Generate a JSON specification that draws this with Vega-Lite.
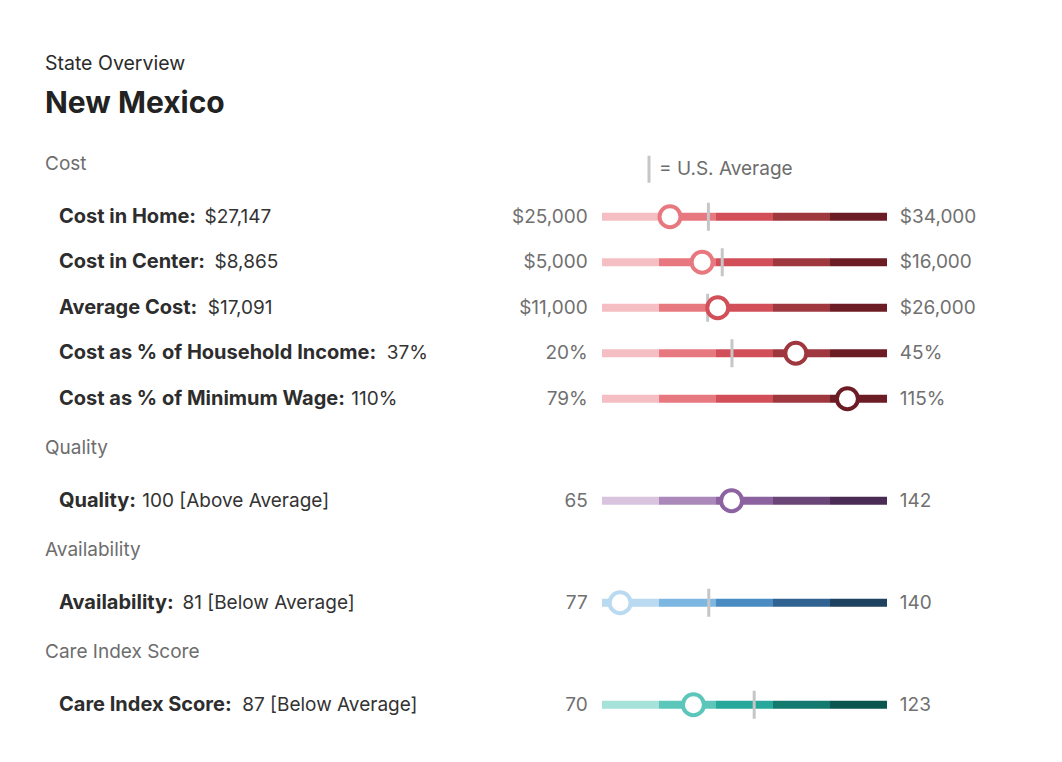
{
  "$schema": "https://vega.github.io/schema/vega-lite/v6.json",
  "background": "white",
  "padding": {"left": 0, "top": 54, "right": 0, "bottom": 0},
  "autosize": {"type": "pad"},
  "config": {"view": {"stroke": null}, "font": "Inter", "text": {"font": "Inter"}},
  "title": {"text": "State Overview", "subtitle": "New Mexico", "anchor": "start", "frame": "group", "dx": 45, "font": "Inter", "fontSize": 19.5, "fontWeight": "normal", "color": "#2b2b2b", "subtitleFont": "Inter", "subtitleFontSize": 30, "subtitleFontWeight": "bold", "subtitleColor": "#222222", "subtitlePadding": 14, "offset": 35},
  "datasets": {
    "metrics": [
      {"section": "Cost", "label": "Cost in Home:", "valueText": "$27,147", "value": 27147, "min": 25000, "max": 34000, "minLabel": "$25,000", "maxLabel": "$34,000", "usavg": 28360},
      {"section": "Cost", "label": "Cost in Center:", "valueText": "$8,865", "value": 8865, "min": 5000, "max": 16000, "minLabel": "$5,000", "maxLabel": "$16,000", "usavg": 9640},
      {"section": "Cost", "label": "Average Cost:", "valueText": "$17,091", "value": 17091, "min": 11000, "max": 26000, "minLabel": "$11,000", "maxLabel": "$26,000", "usavg": 16560},
      {"section": "Cost", "label": "Cost as % of Household Income:", "valueText": "37%", "value": 37, "min": 20, "max": 45, "minLabel": "20%", "maxLabel": "45%", "usavg": 31.4},
      {"section": "Cost", "label": "Cost as % of Minimum Wage:", "valueText": "110%", "value": 110, "min": 79, "max": 115, "minLabel": "79%", "maxLabel": "115%", "usavg": null},
      {"section": "Quality", "label": "Quality:", "valueText": "100 [Above Average]", "value": 100, "min": 65, "max": 142, "minLabel": "65", "maxLabel": "142", "usavg": null},
      {"section": "Availability", "label": "Availability:", "valueText": "81 [Below Average]", "value": 81, "min": 77, "max": 140, "minLabel": "77", "maxLabel": "140", "usavg": 100.6},
      {"section": "Care Index Score", "label": "Care Index Score:", "valueText": "87 [Below Average]", "value": 87, "min": 70, "max": 123, "minLabel": "70", "maxLabel": "123", "usavg": 98.3}
    ],
    "bands": [
      {"section": "Cost", "label": "Cost in Home:", "band": 1},
      {"section": "Cost", "label": "Cost in Home:", "band": 2},
      {"section": "Cost", "label": "Cost in Home:", "band": 3},
      {"section": "Cost", "label": "Cost in Home:", "band": 4},
      {"section": "Cost", "label": "Cost in Home:", "band": 5},
      {"section": "Cost", "label": "Cost in Center:", "band": 1},
      {"section": "Cost", "label": "Cost in Center:", "band": 2},
      {"section": "Cost", "label": "Cost in Center:", "band": 3},
      {"section": "Cost", "label": "Cost in Center:", "band": 4},
      {"section": "Cost", "label": "Cost in Center:", "band": 5},
      {"section": "Cost", "label": "Average Cost:", "band": 1},
      {"section": "Cost", "label": "Average Cost:", "band": 2},
      {"section": "Cost", "label": "Average Cost:", "band": 3},
      {"section": "Cost", "label": "Average Cost:", "band": 4},
      {"section": "Cost", "label": "Average Cost:", "band": 5},
      {"section": "Cost", "label": "Cost as % of Household Income:", "band": 1},
      {"section": "Cost", "label": "Cost as % of Household Income:", "band": 2},
      {"section": "Cost", "label": "Cost as % of Household Income:", "band": 3},
      {"section": "Cost", "label": "Cost as % of Household Income:", "band": 4},
      {"section": "Cost", "label": "Cost as % of Household Income:", "band": 5},
      {"section": "Cost", "label": "Cost as % of Minimum Wage:", "band": 1},
      {"section": "Cost", "label": "Cost as % of Minimum Wage:", "band": 2},
      {"section": "Cost", "label": "Cost as % of Minimum Wage:", "band": 3},
      {"section": "Cost", "label": "Cost as % of Minimum Wage:", "band": 4},
      {"section": "Cost", "label": "Cost as % of Minimum Wage:", "band": 5},
      {"section": "Quality", "label": "Quality:", "band": 1},
      {"section": "Quality", "label": "Quality:", "band": 2},
      {"section": "Quality", "label": "Quality:", "band": 3},
      {"section": "Quality", "label": "Quality:", "band": 4},
      {"section": "Quality", "label": "Quality:", "band": 5},
      {"section": "Availability", "label": "Availability:", "band": 1},
      {"section": "Availability", "label": "Availability:", "band": 2},
      {"section": "Availability", "label": "Availability:", "band": 3},
      {"section": "Availability", "label": "Availability:", "band": 4},
      {"section": "Availability", "label": "Availability:", "band": 5},
      {"section": "Care Index Score", "label": "Care Index Score:", "band": 1},
      {"section": "Care Index Score", "label": "Care Index Score:", "band": 2},
      {"section": "Care Index Score", "label": "Care Index Score:", "band": 3},
      {"section": "Care Index Score", "label": "Care Index Score:", "band": 4},
      {"section": "Care Index Score", "label": "Care Index Score:", "band": 5}
    ]
  },
  "spacing": 17,
  "resolve": {"scale": {"x": "independent", "y": "independent", "color": "shared"}},
  "vconcat": [
    {
      "title": {"text": "Cost", "anchor": "start", "frame": "group", "dx": 45, "font": "Inter", "fontSize": 19, "fontWeight": "normal", "color": "#6d6d6d", "baseline": "alphabetic", "offset": -33},
      "width": 1062,
      "height": {"step": 45.5},
      "encoding": {"y": {"field": "label", "type": "nominal", "sort": null, "scale": {"type": "point", "padding": 0.5}, "axis": null}},
      "layer": [
        {
          "data": {"name": "bands"},
          "transform": [
            {"filter": "datum.section == 'Cost'"},
            {"calculate": "(datum.band - 1) / 5", "as": "x0"},
            {"calculate": "datum.band / 5", "as": "x1"},
            {"calculate": "datum.section + datum.band", "as": "key"}
          ],
          "mark": {"type": "rule", "strokeWidth": 8, "strokeCap": "butt"},
          "encoding": {
            "x": {"field": "x0", "type": "quantitative", "scale": {"domain": [-2.1123, 1.614], "nice": false, "zero": false}, "axis": null},
            "x2": {"field": "x1"},
            "color": {"field": "key", "type": "nominal", "legend": null, "scale": {"domain": ["Cost1","Cost2","Cost3","Cost4","Cost5","Quality1","Quality2","Quality3","Quality4","Quality5","Availability1","Availability2","Availability3","Availability4","Availability5","Care Index Score1","Care Index Score2","Care Index Score3","Care Index Score4","Care Index Score5"], "range": ["#f5bec3","#e8787f","#d24e58","#9e373e","#6c1c24","#d8c4de","#aa88ba","#8c62a0","#6a4678","#4a2b56","#b9daf0","#7cb7e1","#4a8cc2","#306392","#1e425f","#a6e1da","#5cc6bb","#28a89b","#147a70","#0a564e"]}}
          }
        },
        {
          "data": {"name": "metrics"},
          "transform": [
            {"filter": "datum.section == 'Cost'"},
            {"calculate": "(datum.value - datum.min) / (datum.max - datum.min)", "as": "frac"},
            {"calculate": "isValid(datum.usavg) ? (datum.usavg - datum.min) / (datum.max - datum.min) : null", "as": "avgFrac"},
            {"calculate": "datum.section + min(5, floor(datum.frac * 5) + 1)", "as": "ckey"},
            {"calculate": "length(replace(datum.label, regexp('[^il:,. ]', 'g'), ''))", "as": "n1"},
            {"calculate": "length(replace(datum.label, regexp('[^tfrIj]', 'g'), ''))", "as": "n2"},
            {"calculate": "length(replace(datum.label, regexp('[^HCOQDGNUA]', 'g'), ''))", "as": "n4"},
            {"calculate": "length(replace(datum.label, regexp('[^mwMW%]', 'g'), ''))", "as": "n5"},
            {"calculate": "(datum.n1 * 0.27 + datum.n2 * 0.4 + datum.n4 * 0.75 + datum.n5 * 0.9 + (length(datum.label) - datum.n1 - datum.n2 - datum.n4 - datum.n5) * 0.6) * 20", "as": "labW"},
            {"calculate": "-1.9053 + (datum.labW + 8) / 285", "as": "valX"}
          ],
          "layer": [
            {"transform": [{"filter": "isValid(datum.usavg)"}], "mark": {"type": "tick", "color": "#c6c6c6", "thickness": 3, "size": 28, "opacity": 1}, "encoding": {"x": {"field": "avgFrac", "type": "quantitative"}}},
            {"mark": {"type": "point", "shape": "circle", "filled": false, "fill": "white", "fillOpacity": 1, "strokeWidth": 4, "size": 441, "opacity": 1}, "encoding": {"x": {"field": "frac", "type": "quantitative"}, "color": {"field": "ckey", "type": "nominal", "legend": null}}},
            {"mark": {"type": "text", "align": "left", "baseline": "middle", "font": "Inter", "fontSize": 20, "fontWeight": "bold", "color": "#2d2d2d"}, "encoding": {"x": {"datum": -1.9053, "type": "quantitative"}, "text": {"field": "label"}}},
            {"mark": {"type": "text", "align": "left", "baseline": "middle", "font": "Inter", "fontSize": 19, "fontWeight": "normal", "color": "#333333"}, "encoding": {"x": {"field": "valX", "type": "quantitative"}, "text": {"field": "valueText"}}},
            {"mark": {"type": "text", "align": "right", "baseline": "middle", "font": "Inter", "fontSize": 19, "color": "#707070"}, "encoding": {"x": {"datum": -0.05, "type": "quantitative"}, "text": {"field": "minLabel"}}},
            {"mark": {"type": "text", "align": "left", "baseline": "middle", "font": "Inter", "fontSize": 19, "color": "#707070"}, "encoding": {"x": {"datum": 1.045, "type": "quantitative"}, "text": {"field": "maxLabel"}}}
          ]
        },
        {
          "data": {"values": [{"legend": "= U.S. Average"}]},
          "mark": {"type": "tick", "color": "#c6c6c6", "thickness": 3, "size": 27, "opacity": 1, "yOffset": -47.5},
          "encoding": {"x": {"datum": 0.1649, "type": "quantitative"}, "y": {"datum": "Cost in Home:", "type": "nominal"}}
        },
        {
          "data": {"values": [{"legend": "= U.S. Average"}]},
          "mark": {"type": "text", "align": "left", "baseline": "middle", "font": "Inter", "fontSize": 19, "color": "#6d6d6d", "dy": -48},
          "encoding": {"x": {"datum": 0.2, "type": "quantitative"}, "y": {"datum": "Cost in Home:", "type": "nominal"}, "text": {"field": "legend"}}
        }
      ]
    },
    {
      "title": {"text": "Quality", "anchor": "start", "frame": "group", "dx": 45, "font": "Inter", "fontSize": 19, "fontWeight": "normal", "color": "#6d6d6d", "baseline": "alphabetic", "offset": 5},
      "width": 1062,
      "height": {"step": 45.5},
      "encoding": {"y": {"field": "label", "type": "nominal", "sort": null, "scale": {"type": "point", "padding": 0.5}, "axis": null}},
      "layer": [
        {
          "data": {"name": "bands"},
          "transform": [
            {"filter": "datum.section == 'Quality'"},
            {"calculate": "(datum.band - 1) / 5", "as": "x0"},
            {"calculate": "datum.band / 5", "as": "x1"},
            {"calculate": "datum.section + datum.band", "as": "key"}
          ],
          "mark": {"type": "rule", "strokeWidth": 8, "strokeCap": "butt"},
          "encoding": {
            "x": {"field": "x0", "type": "quantitative", "scale": {"domain": [-2.1123, 1.614], "nice": false, "zero": false}, "axis": null},
            "x2": {"field": "x1"},
            "color": {"field": "key", "type": "nominal", "legend": null}
          }
        },
        {
          "data": {"name": "metrics"},
          "transform": [
            {"filter": "datum.section == 'Quality'"},
            {"calculate": "(datum.value - datum.min) / (datum.max - datum.min)", "as": "frac"},
            {"calculate": "isValid(datum.usavg) ? (datum.usavg - datum.min) / (datum.max - datum.min) : null", "as": "avgFrac"},
            {"calculate": "datum.section + min(5, floor(datum.frac * 5) + 1)", "as": "ckey"},
            {"calculate": "length(replace(datum.label, regexp('[^il:,. ]', 'g'), ''))", "as": "n1"},
            {"calculate": "length(replace(datum.label, regexp('[^tfrIj]', 'g'), ''))", "as": "n2"},
            {"calculate": "length(replace(datum.label, regexp('[^HCOQDGNUA]', 'g'), ''))", "as": "n4"},
            {"calculate": "length(replace(datum.label, regexp('[^mwMW%]', 'g'), ''))", "as": "n5"},
            {"calculate": "(datum.n1 * 0.27 + datum.n2 * 0.4 + datum.n4 * 0.75 + datum.n5 * 0.9 + (length(datum.label) - datum.n1 - datum.n2 - datum.n4 - datum.n5) * 0.6) * 20", "as": "labW"},
            {"calculate": "-1.9053 + (datum.labW + 8) / 285", "as": "valX"}
          ],
          "layer": [
            {"transform": [{"filter": "isValid(datum.usavg)"}], "mark": {"type": "tick", "color": "#c6c6c6", "thickness": 3, "size": 28, "opacity": 1}, "encoding": {"x": {"field": "avgFrac", "type": "quantitative"}}},
            {"mark": {"type": "point", "shape": "circle", "filled": false, "fill": "white", "fillOpacity": 1, "strokeWidth": 4, "size": 441, "opacity": 1}, "encoding": {"x": {"field": "frac", "type": "quantitative"}, "color": {"field": "ckey", "type": "nominal", "legend": null}}},
            {"mark": {"type": "text", "align": "left", "baseline": "middle", "font": "Inter", "fontSize": 20, "fontWeight": "bold", "color": "#2d2d2d"}, "encoding": {"x": {"datum": -1.9053, "type": "quantitative"}, "text": {"field": "label"}}},
            {"mark": {"type": "text", "align": "left", "baseline": "middle", "font": "Inter", "fontSize": 19, "fontWeight": "normal", "color": "#333333"}, "encoding": {"x": {"field": "valX", "type": "quantitative"}, "text": {"field": "valueText"}}},
            {"mark": {"type": "text", "align": "right", "baseline": "middle", "font": "Inter", "fontSize": 19, "color": "#707070"}, "encoding": {"x": {"datum": -0.05, "type": "quantitative"}, "text": {"field": "minLabel"}}},
            {"mark": {"type": "text", "align": "left", "baseline": "middle", "font": "Inter", "fontSize": 19, "color": "#707070"}, "encoding": {"x": {"datum": 1.045, "type": "quantitative"}, "text": {"field": "maxLabel"}}}
          ]
        }
      ]
    },
    {
      "title": {"text": "Availability", "anchor": "start", "frame": "group", "dx": 45, "font": "Inter", "fontSize": 19, "fontWeight": "normal", "color": "#6d6d6d", "baseline": "alphabetic", "offset": 5},
      "width": 1062,
      "height": {"step": 45.5},
      "encoding": {"y": {"field": "label", "type": "nominal", "sort": null, "scale": {"type": "point", "padding": 0.5}, "axis": null}},
      "layer": [
        {
          "data": {"name": "bands"},
          "transform": [
            {"filter": "datum.section == 'Availability'"},
            {"calculate": "(datum.band - 1) / 5", "as": "x0"},
            {"calculate": "datum.band / 5", "as": "x1"},
            {"calculate": "datum.section + datum.band", "as": "key"}
          ],
          "mark": {"type": "rule", "strokeWidth": 8, "strokeCap": "butt"},
          "encoding": {
            "x": {"field": "x0", "type": "quantitative", "scale": {"domain": [-2.1123, 1.614], "nice": false, "zero": false}, "axis": null},
            "x2": {"field": "x1"},
            "color": {"field": "key", "type": "nominal", "legend": null}
          }
        },
        {
          "data": {"name": "metrics"},
          "transform": [
            {"filter": "datum.section == 'Availability'"},
            {"calculate": "(datum.value - datum.min) / (datum.max - datum.min)", "as": "frac"},
            {"calculate": "isValid(datum.usavg) ? (datum.usavg - datum.min) / (datum.max - datum.min) : null", "as": "avgFrac"},
            {"calculate": "datum.section + min(5, floor(datum.frac * 5) + 1)", "as": "ckey"},
            {"calculate": "length(replace(datum.label, regexp('[^il:,. ]', 'g'), ''))", "as": "n1"},
            {"calculate": "length(replace(datum.label, regexp('[^tfrIj]', 'g'), ''))", "as": "n2"},
            {"calculate": "length(replace(datum.label, regexp('[^HCOQDGNUA]', 'g'), ''))", "as": "n4"},
            {"calculate": "length(replace(datum.label, regexp('[^mwMW%]', 'g'), ''))", "as": "n5"},
            {"calculate": "(datum.n1 * 0.27 + datum.n2 * 0.4 + datum.n4 * 0.75 + datum.n5 * 0.9 + (length(datum.label) - datum.n1 - datum.n2 - datum.n4 - datum.n5) * 0.6) * 20", "as": "labW"},
            {"calculate": "-1.9053 + (datum.labW + 8) / 285", "as": "valX"}
          ],
          "layer": [
            {"transform": [{"filter": "isValid(datum.usavg)"}], "mark": {"type": "tick", "color": "#c6c6c6", "thickness": 3, "size": 28, "opacity": 1}, "encoding": {"x": {"field": "avgFrac", "type": "quantitative"}}},
            {"mark": {"type": "point", "shape": "circle", "filled": false, "fill": "white", "fillOpacity": 1, "strokeWidth": 4, "size": 441, "opacity": 1}, "encoding": {"x": {"field": "frac", "type": "quantitative"}, "color": {"field": "ckey", "type": "nominal", "legend": null}}},
            {"mark": {"type": "text", "align": "left", "baseline": "middle", "font": "Inter", "fontSize": 20, "fontWeight": "bold", "color": "#2d2d2d"}, "encoding": {"x": {"datum": -1.9053, "type": "quantitative"}, "text": {"field": "label"}}},
            {"mark": {"type": "text", "align": "left", "baseline": "middle", "font": "Inter", "fontSize": 19, "fontWeight": "normal", "color": "#333333"}, "encoding": {"x": {"field": "valX", "type": "quantitative"}, "text": {"field": "valueText"}}},
            {"mark": {"type": "text", "align": "right", "baseline": "middle", "font": "Inter", "fontSize": 19, "color": "#707070"}, "encoding": {"x": {"datum": -0.05, "type": "quantitative"}, "text": {"field": "minLabel"}}},
            {"mark": {"type": "text", "align": "left", "baseline": "middle", "font": "Inter", "fontSize": 19, "color": "#707070"}, "encoding": {"x": {"datum": 1.045, "type": "quantitative"}, "text": {"field": "maxLabel"}}}
          ]
        }
      ]
    },
    {
      "title": {"text": "Care Index Score", "anchor": "start", "frame": "group", "dx": 45, "font": "Inter", "fontSize": 19, "fontWeight": "normal", "color": "#6d6d6d", "baseline": "alphabetic", "offset": 5},
      "width": 1062,
      "height": {"step": 45.5},
      "encoding": {"y": {"field": "label", "type": "nominal", "sort": null, "scale": {"type": "point", "padding": 0.5}, "axis": null}},
      "layer": [
        {
          "data": {"name": "bands"},
          "transform": [
            {"filter": "datum.section == 'Care Index Score'"},
            {"calculate": "(datum.band - 1) / 5", "as": "x0"},
            {"calculate": "datum.band / 5", "as": "x1"},
            {"calculate": "datum.section + datum.band", "as": "key"}
          ],
          "mark": {"type": "rule", "strokeWidth": 8, "strokeCap": "butt"},
          "encoding": {
            "x": {"field": "x0", "type": "quantitative", "scale": {"domain": [-2.1123, 1.614], "nice": false, "zero": false}, "axis": null},
            "x2": {"field": "x1"},
            "color": {"field": "key", "type": "nominal", "legend": null}
          }
        },
        {
          "data": {"name": "metrics"},
          "transform": [
            {"filter": "datum.section == 'Care Index Score'"},
            {"calculate": "(datum.value - datum.min) / (datum.max - datum.min)", "as": "frac"},
            {"calculate": "isValid(datum.usavg) ? (datum.usavg - datum.min) / (datum.max - datum.min) : null", "as": "avgFrac"},
            {"calculate": "datum.section + min(5, floor(datum.frac * 5) + 1)", "as": "ckey"},
            {"calculate": "length(replace(datum.label, regexp('[^il:,. ]', 'g'), ''))", "as": "n1"},
            {"calculate": "length(replace(datum.label, regexp('[^tfrIj]', 'g'), ''))", "as": "n2"},
            {"calculate": "length(replace(datum.label, regexp('[^HCOQDGNUA]', 'g'), ''))", "as": "n4"},
            {"calculate": "length(replace(datum.label, regexp('[^mwMW%]', 'g'), ''))", "as": "n5"},
            {"calculate": "(datum.n1 * 0.27 + datum.n2 * 0.4 + datum.n4 * 0.75 + datum.n5 * 0.9 + (length(datum.label) - datum.n1 - datum.n2 - datum.n4 - datum.n5) * 0.6) * 20", "as": "labW"},
            {"calculate": "-1.9053 + (datum.labW + 8) / 285", "as": "valX"}
          ],
          "layer": [
            {"transform": [{"filter": "isValid(datum.usavg)"}], "mark": {"type": "tick", "color": "#c6c6c6", "thickness": 3, "size": 28, "opacity": 1}, "encoding": {"x": {"field": "avgFrac", "type": "quantitative"}}},
            {"mark": {"type": "point", "shape": "circle", "filled": false, "fill": "white", "fillOpacity": 1, "strokeWidth": 4, "size": 441, "opacity": 1}, "encoding": {"x": {"field": "frac", "type": "quantitative"}, "color": {"field": "ckey", "type": "nominal", "legend": null}}},
            {"mark": {"type": "text", "align": "left", "baseline": "middle", "font": "Inter", "fontSize": 20, "fontWeight": "bold", "color": "#2d2d2d"}, "encoding": {"x": {"datum": -1.9053, "type": "quantitative"}, "text": {"field": "label"}}},
            {"mark": {"type": "text", "align": "left", "baseline": "middle", "font": "Inter", "fontSize": 19, "fontWeight": "normal", "color": "#333333"}, "encoding": {"x": {"field": "valX", "type": "quantitative"}, "text": {"field": "valueText"}}},
            {"mark": {"type": "text", "align": "right", "baseline": "middle", "font": "Inter", "fontSize": 19, "color": "#707070"}, "encoding": {"x": {"datum": -0.05, "type": "quantitative"}, "text": {"field": "minLabel"}}},
            {"mark": {"type": "text", "align": "left", "baseline": "middle", "font": "Inter", "fontSize": 19, "color": "#707070"}, "encoding": {"x": {"datum": 1.045, "type": "quantitative"}, "text": {"field": "maxLabel"}}}
          ]
        }
      ]
    }
  ]
}
